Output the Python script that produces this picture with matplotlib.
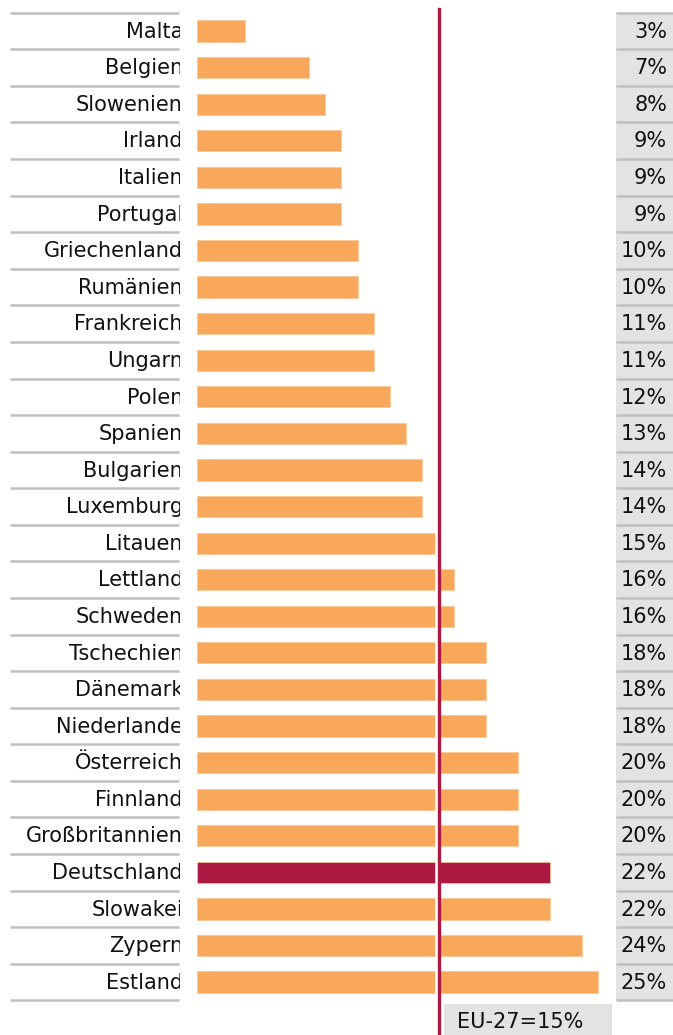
import matplotlib
matplotlib.use("Agg")
import matplotlib.pyplot as plt
import matplotlib.transforms as mtransforms
from matplotlib.patches import Rectangle

countries = ["Malta", "Belgien", "Slowenien", "Irland", "Italien", "Portugal",
             "Griechenland", "Rumänien", "Frankreich", "Ungarn", "Polen", "Spanien",
             "Bulgarien", "Luxemburg", "Litauen", "Lettland", "Schweden", "Tschechien",
             "Dänemark", "Niederlande", "Österreich", "Finnland", "Großbritannien",
             "Deutschland", "Slowakei", "Zypern", "Estland"]
values = [3, 7, 8, 9, 9, 9, 10, 10, 11, 11, 12, 13, 14, 14, 15, 16, 16, 18,
          18, 18, 20, 20, 20, 22, 22, 24, 25]
highlight = "Deutschland"
eu_value = 15
eu_label = "EU-27=15%"

ORANGE = "#F9A75A"
CRIMSON = "#AB1942"
GRAY_SEP = "#C0C0C0"
GRAY_BOX = "#E3E3E3"

W, H = 673, 1035
fig = plt.figure(figsize=(W / 100, H / 100), dpi=100)
ax = fig.add_axes([0, 0, 1, 1])
ax.set_axis_off()

# pixel -> data mapping
x0px, pxper = 197.0, 16.05
y0px, rowpx = 31.0, 36.58
ax.set_xlim((0 - x0px) / pxper, (W - x0px) / pxper)
ax.set_ylim((H - y0px) / rowpx, (0 - y0px) / rowpx)

def fx(px):
    return px / W

def fy(py):
    return 1 - py / H

n = len(countries)
ypos = list(range(n))
colors = [CRIMSON if c == highlight else ORANGE for c in countries]
ax.barh(ypos, values, height=0.58, color=colors, edgecolor="#FBC48F",
        linewidth=0.5, zorder=2)

# EU line (white halo + crimson)
top_frac = fy(9)
ax.axvline(eu_value + 0.04, ymin=0, ymax=top_frac, color="white", lw=4.0, zorder=3)
ax.axvline(eu_value + 0.1, ymin=0, ymax=top_frac, color=CRIMSON, lw=2.4, zorder=4)

# Value column boxes
box_left, box_right = 616, 673
bt = mtransforms.blended_transform_factory(fig.transFigure, ax.transData)
ax.add_patch(Rectangle((fx(box_left), -0.5), fx(box_right) - fx(box_left), n,
                       transform=bt, facecolor=GRAY_BOX, edgecolor="none", zorder=1))

font = "DejaVu Sans"
fs = 15.0
clip_rect = Rectangle((fx(0), 0), fx(180), 1, transform=fig.transFigure,
                      facecolor="none", edgecolor="none")
fig.add_artist(clip_rect)
clip_rect.set_visible(False)

for i, (c, v) in enumerate(zip(countries, values)):
    t = ax.text(fx(183), i + 0.02, c, transform=bt, ha="right", va="center",
                fontsize=fs, family=font, color="#111111", zorder=5)
    t.set_clip_path(clip_rect)
    t.set_clip_on(True)
    ax.text(fx(667), i + 0.02, f"{v}%", transform=bt, ha="right", va="center",
            fontsize=fs, family=font, color="#111111", zorder=5)

# separators
for k in range(n + 1):
    yb = k - 0.5
    ax.plot([fx(10), fx(179)], [yb, yb], transform=bt, color=GRAY_SEP,
            lw=1.8, solid_capstyle="butt", zorder=3)
    ax.plot([fx(box_left), fx(box_right)], [yb, yb], transform=bt, color=GRAY_SEP,
            lw=1.8, solid_capstyle="butt", zorder=3)

# EU label box
fig.patches.append(Rectangle((fx(444), fy(1040)), fx(612) - fx(444), fy(1004) - fy(1040),
                             transform=fig.transFigure, facecolor=GRAY_BOX,
                             edgecolor="none", zorder=1))
fig.text(fx(457), fy(1022), eu_label, ha="left", va="center", fontsize=fs,
         family=font, color="#111111")

fig.savefig("out.png", dpi=100)
